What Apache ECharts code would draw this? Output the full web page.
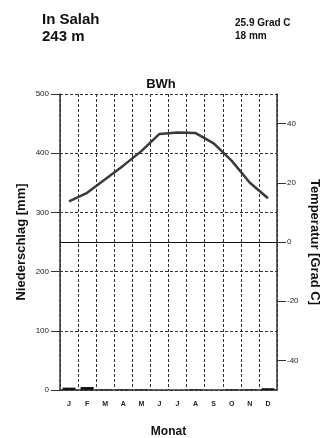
<!DOCTYPE html>
<html><head><meta charset="utf-8">
<script src="https://cdn.jsdelivr.net/npm/echarts@6/dist/echarts.min.js"></script>
<style>html,body{margin:0;padding:0;background:#fff}#c{width:322px;height:438px}</style>
</head><body><div id="c"></div>
<script>
const months = ['J','F','M','A','M','J','J','A','S','O','N','D'];
const precipitation = [4, 5, 1, 1, 1, 0, 0, 1, 0, 1, 1, 3];
const temperature = [13.7, 16.6, 21.2, 25.8, 30.7, 36.5, 37.0, 36.8, 33.3, 27.4, 20.0, 14.8];
const precipTicks = [0, 100, 200, 300, 400, 500];
const tempTicks = [-40, -20, 0, 20, 40];
const stationName = 'In Salah';
const elevation = '243 m';
const meanTemp = '25.9 Grad C';
const totalPrecip = '18 mm';
const climateClass = 'BWh';

const FONT = '"Liberation Sans", Arial, sans-serif';
const chart = echarts.init(document.getElementById('c'), null, {renderer: 'canvas'});
const dashed = {color: '#333', width: 1, type: [3, 2]};
chart.setOption({
  animation: false,
  backgroundColor: '#fff',
  textStyle: {fontFamily: FONT},
  title: {
    text: climateClass, left: 'center', top: 73,
    textStyle: {fontFamily: FONT, fontSize: 13, fontWeight: 'bold', color: '#111'}
  },
  graphic: [
    {type: 'text', left: 42, top: 12, style: {text: stationName, font: 'bold 15px ' + FONT, fill: '#111'}},
    {type: 'text', left: 42, top: 29, style: {text: elevation, font: 'bold 15px ' + FONT, fill: '#111'}},
    {type: 'text', left: 235, top: 18, style: {text: meanTemp, font: 'bold 10px ' + FONT, fill: '#111'}},
    {type: 'text', left: 235, top: 31, style: {text: totalPrecip, font: 'bold 10px ' + FONT, fill: '#111'}}
  ],
  grid: {left: 60, right: 45, top: 94, bottom: 48, containLabel: false, outerBoundsMode: 'none'},
  xAxis: {
    type: 'category', data: months, boundaryGap: true,
    name: 'Monat', nameLocation: 'middle', nameGap: 36,
    nameTextStyle: {fontFamily: FONT, fontSize: 12, fontWeight: 'bold', color: '#111'},
    axisLine: {lineStyle: {color: '#333', width: 1.5}},
    axisTick: {show: false},
    axisLabel: {fontSize: 7, fontWeight: 'bold', color: '#222', margin: 11},
    splitLine: {show: true, lineStyle: dashed}
  },
  yAxis: [
    {
      type: 'value', min: 0, max: 500, interval: 50, position: 'left',
      name: 'Niederschlag [mm]', nameLocation: 'middle', nameGap: 32, nameRotate: 90,
      nameMoveOverlap: false,
      nameTextStyle: {fontFamily: FONT, fontSize: 13, fontWeight: 'bold', color: '#111'},
      axisLine: {show: true, lineStyle: {color: '#333', width: 1.5}},
      axisTick: {show: true, length: 9, customValues: precipTicks, lineStyle: {color: '#333'}},
      axisLabel: {customValues: precipTicks, fontSize: 8, color: '#222', margin: 11},
      splitLine: {show: true, lineStyle: dashed}
    },
    {
      type: 'value', min: -50, max: 50, interval: 10, position: 'right',
      name: 'Temperatur [Grad C]', nameLocation: 'middle', nameGap: 31, nameRotate: -90,
      nameMoveOverlap: false,
      nameTextStyle: {fontFamily: FONT, fontSize: 13, fontWeight: 'bold', color: '#111'},
      axisLine: {show: true, lineStyle: {color: '#333', width: 1.5}},
      axisTick: {show: true, length: 9, customValues: tempTicks, lineStyle: {color: '#333'}},
      axisLabel: {customValues: tempTicks, fontSize: 8, color: '#222', margin: 10},
      splitLine: {show: false}
    }
  ],
  series: [
    {
      type: 'bar', name: 'Niederschlag', yAxisIndex: 0, data: precipitation,
      barWidth: 13, itemStyle: {color: '#111'}, silent: true
    },
    {
      type: 'line', name: 'Temperatur', yAxisIndex: 1, data: temperature,
      symbol: 'none', lineStyle: {color: '#3a3a3a', width: 2.5}, silent: true,
      markLine: {
        silent: true, symbol: 'none', label: {show: false},
        lineStyle: {color: '#111', width: 1, type: 'solid'},
        data: [{yAxis: 0}]
      }
    }
  ]
});
</script></body></html>
